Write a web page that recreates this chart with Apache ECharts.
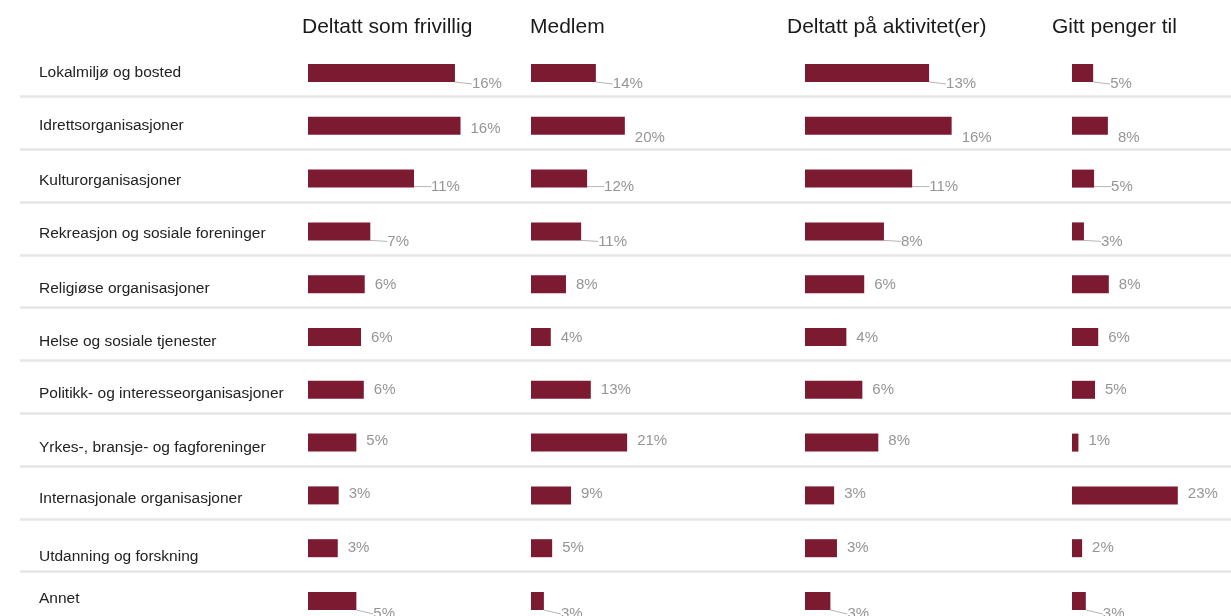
<!DOCTYPE html>
<html>
<head>
<meta charset="utf-8">
<script src="https://cdn.jsdelivr.net/npm/echarts@6/dist/echarts.min.js"></script>
<style>
  html, body { margin: 0; padding: 0; background: #ffffff; }
  #chart { width: 1231px; height: 616px; }
</style>
</head>
<body>
<div id="chart"></div>
<script>
// ---- Data ----
const categories = [
  'Lokalmiljø og bosted',
  'Idrettsorganisasjoner',
  'Kulturorganisasjoner',
  'Rekreasjon og sosiale foreninger',
  'Religiøse organisasjoner',
  'Helse og sosiale tjenester',
  'Politikk- og interesseorganisasjoner',
  'Yrkes-, bransje- og fagforeninger',
  'Internasjonale organisasjoner',
  'Utdanning og forskning',
  'Annet'
];
const panelTitles = ['Deltatt som frivillig', 'Medlem', 'Deltatt på aktivitet(er)', 'Gitt penger til'];
const frivillig = [15.8, 16.4, 11.4, 6.7, 6.1, 5.7, 6.0, 5.2, 3.3, 3.2, 5.2];
const medlem    = [14.1, 20.4, 12.2, 10.9, 7.6, 4.3, 13.0, 20.9, 8.7, 4.6, 2.8];
const aktivitet = [13.2, 15.6, 11.4, 8.4, 6.3, 4.4, 6.1, 7.8, 3.1, 3.4, 2.7];
const gittPenger = [4.6, 7.8, 4.8, 2.6, 8.0, 5.7, 5.0, 1.4, 23.0, 2.2, 3.0];
const seriesValues = [frivillig, medlem, aktivitet, gittPenger];

// ---- Layout / style (not data) ----
const FONT = 'Liberation Sans, Arial, sans-serif';
const BAR = '#7c1a32';
const gridLefts = [308, 531, 805, 1072];
const gridWidths = [232.5, 115, 235, 115];
const titleLefts = [297, 525, 782, 1047];
const ROW0 = 73, ROW_STEP = 52.8, NROWS = 11;
const leaderRows = [0, 2, 3, 10];
const rowDy = [11, 12, 8, 10, 1, 1, 0, -2, -2, 0, 13];
const rowLabelDy = [0, 0, 2, 2, 5, 5, 4, 5, 3, 9, -2];

const rich = {};
rowLabelDy.forEach((dy, i) => {
  rich['r' + i] = {
    fontFamily: FONT, fontSize: 15.5, color: '#222',
    padding: dy >= 0 ? [2 * dy, 0, 0, 0] : [0, 0, -2 * dy, 0]
  };
});

const grids = [], xAxes = [], yAxes = [], series = [], titles = [];
for (let p = 0; p < 4; p++) {
  grids.push({ left: gridLefts[p], top: ROW0, width: gridWidths[p], height: ROW_STEP * (NROWS - 1), containLabel: false });
  xAxes.push({ gridIndex: p, type: 'value', min: 0, max: 25, show: false });
  yAxes.push({
    gridIndex: p, type: 'category', data: categories, inverse: true, boundaryGap: false,
    axisLine: { show: false }, axisTick: { show: false }, splitLine: { show: false },
    axisLabel: p === 0 ? {
      show: true, align: 'left', margin: 308 - 39, interval: 0,
      formatter: (v, i) => '{r' + i + '|' + v + '}',
      rich: rich
    } : { show: false }
  });
  titles.push({
    text: panelTitles[p], left: titleLefts[p], top: 12,
    textStyle: { fontFamily: FONT, fontSize: 21, fontWeight: 'normal', color: '#1a1a1a' }
  });
  series.push({
    type: 'bar', xAxisIndex: p, yAxisIndex: p,
    barWidth: 18, clip: false,
    itemStyle: { color: BAR },
    data: seriesValues[p].map((v, i) => ({
      value: v,
      labelLine: { show: leaderRows.indexOf(i) >= 0 }
    })),
    label: {
      show: true, position: 'right', distance: 10,
      formatter: (d) => Math.round(d.value) + '%',
      fontFamily: FONT, fontSize: 15, color: '#959595'
    },
    labelLine: { lineStyle: { color: '#b5b5b5', width: 1 }, smooth: false },
    labelLayout: (params) => {
      const i = params.dataIndex;
      const lead = leaderRows.indexOf(i) >= 0;
      let dy = rowDy[i];
      if (i === 1 && params.seriesIndex === 0) dy = 3;
      return { dx: lead ? 7 : 0, dy: dy };
    },
    silent: true, animation: false
  });
}

// separator lines between rows (full width)
grids.push({ left: 20, right: 0, top: ROW0 + ROW_STEP / 2 - 3, height: ROW_STEP * (NROWS - 2) });
xAxes.push({ gridIndex: 4, type: 'value', show: false });
yAxes.push({
  gridIndex: 4, type: 'value', min: 0, max: NROWS - 2, interval: 1,
  axisLine: { show: false }, axisTick: { show: false }, axisLabel: { show: false },
  splitLine: { show: true, lineStyle: { color: '#e6e6e6', width: 2.5 } }
});

const chart = echarts.init(document.getElementById('chart'), null, { renderer: 'canvas' });
chart.setOption({
  backgroundColor: '#ffffff',
  animation: false,
  title: titles,
  grid: grids,
  xAxis: xAxes,
  yAxis: yAxes,
  series: series
});
</script>
</body>
</html>
